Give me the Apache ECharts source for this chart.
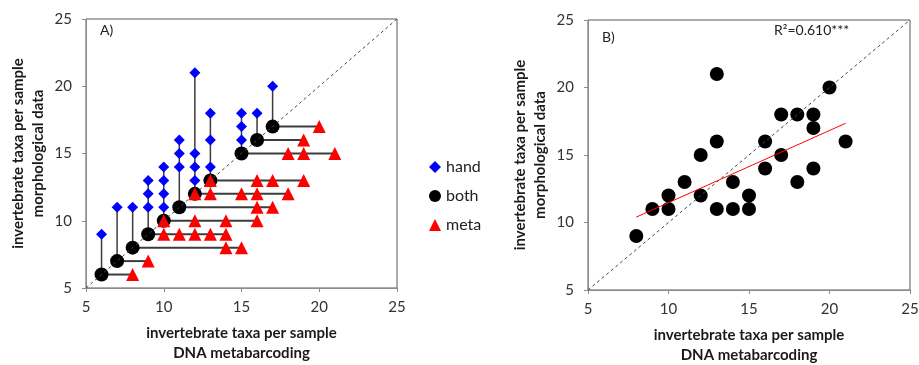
<!DOCTYPE html>
<html>
<head>
<meta charset="utf-8">
<script src="https://cdn.jsdelivr.net/npm/echarts@6/dist/echarts.min.js"></script>
<style>
  html, body { margin: 0; padding: 0; background: #fff; }
  #chart { width: 919px; height: 365px; }
</style>
</head>
<body>
<div id="chart"></div>
<script>
// panel A: samples where both methods agree (x = y)
const bothVals = [6, 7, 8, 9, 10, 11, 12, 13, 15, 16, 17];
// extra taxa found only by hand sorting [x, y]
const handPts = [
  [6, 9], [7, 11], [8, 11], [9, 11], [9, 12], [9, 13],
  [10, 11], [10, 12], [10, 13], [10, 14], [11, 14], [11, 15], [11, 16],
  [12, 13], [12, 14], [12, 15], [12, 21], [13, 14], [13, 16], [13, 18],
  [15, 16], [15, 17], [15, 18], [16, 18], [17, 20]
];
// extra taxa found only by metabarcoding [x, y]
const metaPts = [
  [8, 6], [9, 7], [14, 8], [15, 8], [10, 9], [11, 9], [12, 9], [13, 9], [14, 9],
  [10, 10], [12, 10], [14, 10], [16, 10], [16, 11], [17, 11],
  [12, 12], [13, 12], [15, 12], [16, 12], [18, 12],
  [13, 13], [16, 13], [17, 13], [19, 13],
  [18, 15], [19, 15], [21, 15], [19, 16], [20, 17]
];

// panel B
const dnaX = [8, 9, 10, 10, 11, 12, 12, 13, 13, 13, 14, 14, 15, 15, 16, 16, 17, 17, 18, 18, 19, 19, 19, 20, 21];
const morphY = [9, 11, 11, 12, 13, 12, 15, 21, 16, 11, 13, 11, 12, 11, 16, 14, 18, 15, 18, 13, 18, 17, 14, 20, 16];
const trendX = [8, 21];
const trendY = [10.4, 17.35];
const oneToOne = [5, 25];

const axisTicks = { min: 5, max: 25, interval: 5 };
const font = 'Lato, "Open Sans", sans-serif';

// stems: from the shared point up to the highest hand value / across to the farthest meta value
const stems = bothVals.map(b => {
  const ys = handPts.filter(p => p[0] === b).map(p => p[1]);
  return [b, b, ys.length ? Math.max(...ys) : b];
});
const whiskers = bothVals.map(b => {
  const xs = metaPts.filter(p => p[1] === b).map(p => p[0]);
  return [b, b, xs.length ? Math.max(...xs) : b];
});

const myChart = echarts.init(document.getElementById('chart'));

function makeX(idx) {
  return {
    gridIndex: idx, type: 'value', ...axisTicks,
    name: 'invertebrate taxa per sample\nDNA metabarcoding',
    nameLocation: 'middle', nameGap: 35,
    nameTextStyle: { fontFamily: font, fontWeight: 'bold', fontSize: 15, color: '#1a1a1a', lineHeight: 20 },
    axisLine: { lineStyle: { color: '#8c8c8c', width: 1 } },
    axisTick: { show: true, length: 4, lineStyle: { color: '#8c8c8c' } },
    axisLabel: { fontFamily: font, fontSize: 15, color: '#333', margin: 12 },
    splitLine: { show: false }
  };
}
function makeY(idx) {
  return {
    gridIndex: idx, type: 'value', ...axisTicks,
    name: 'invertebrate taxa per sample\nmorphological data',
    nameLocation: 'middle', nameGap: 38,
    nameTextStyle: { fontFamily: font, fontWeight: 'bold', fontSize: 15, color: '#1a1a1a', lineHeight: 20 },
    axisLine: { lineStyle: { color: '#8c8c8c', width: 1 } },
    axisTick: { show: true, length: 4, lineStyle: { color: '#8c8c8c' } },
    axisLabel: { fontFamily: font, fontSize: 15, color: '#333', margin: 14 },
    splitLine: { show: false }
  };
}

function segSeries(data, vertical, lw) {
  return {
    type: 'custom', xAxisIndex: 0, yAxisIndex: 0, silent: true,
    data: data, encode: { x: 0, y: 1 },
    renderItem: function (params, api) {
      const v = api.value(0), s = api.value(1), e = api.value(2);
      const p1 = api.coord([v, s]);
      const p2 = vertical ? api.coord([v, e]) : api.coord([e, s]);
      return {
        type: 'line',
        shape: { x1: p1[0], y1: p1[1], x2: p2[0], y2: p2[1] },
        style: { stroke: '#3c3c3c', lineWidth: lw }
      };
    }
  };
}

const option = {
  animation: false,
  grid: [
    { left: 86, top: 19, right: 522, bottom: 77, outerBoundsMode: 'none', show: true, borderColor: '#595959', borderWidth: 1 },
    { left: 588, top: 20, right: 9, bottom: 75, outerBoundsMode: 'none', show: true, borderColor: '#595959', borderWidth: 1 }
  ],
  xAxis: [makeX(0), makeX(1)],
  yAxis: [makeY(0), makeY(1)],
  legend: {
    orient: 'vertical', left: 424, top: 154, itemGap: 13,
    itemWidth: 12, itemHeight: 12,
    textStyle: { fontFamily: font, fontSize: 16, color: '#222' },
    data: [
      { name: 'hand', icon: 'diamond' },
      { name: 'both', icon: 'circle' },
      { name: 'meta', icon: 'triangle' }
    ]
  },
  graphic: [
    { type: 'text', left: 100, top: 23, style: { text: 'A)', fontFamily: font, fontSize: 14, fill: '#222' } },
    { type: 'text', left: 602, top: 30, style: { text: 'B)', fontFamily: font, fontSize: 14, fill: '#222' } },
    { type: 'text', left: 774, top: 23, style: { text: 'R²=0.610***', fontFamily: font, fontSize: 14, fill: '#222' } }
  ],
  series: [
    {
      type: 'line', xAxisIndex: 0, yAxisIndex: 0, silent: true, symbol: 'none',
      data: oneToOne.map(v => [v, v]),
      lineStyle: { color: '#444', width: 1, type: [3, 3] }
    },
    segSeries(stems, true, 1.5),
    segSeries(whiskers, false, 2),
    {
      name: 'hand', type: 'scatter', xAxisIndex: 0, yAxisIndex: 0,
      symbol: 'diamond', symbolSize: 11, data: handPts,
      itemStyle: { color: '#0000ff', opacity: 1 }
    },
    {
      name: 'both', type: 'scatter', xAxisIndex: 0, yAxisIndex: 0,
      symbol: 'circle', symbolSize: 14, data: bothVals.map(v => [v, v]),
      itemStyle: { color: '#000', opacity: 1 }
    },
    {
      name: 'meta', type: 'scatter', xAxisIndex: 0, yAxisIndex: 0,
      symbol: 'triangle', symbolSize: 13, data: metaPts,
      itemStyle: { color: '#ff0000', opacity: 1 }
    },
    {
      type: 'line', xAxisIndex: 1, yAxisIndex: 1, silent: true, symbol: 'none',
      data: oneToOne.map(v => [v, v]),
      lineStyle: { color: '#444', width: 1, type: [3, 3] }
    },
    {
      type: 'scatter', xAxisIndex: 1, yAxisIndex: 1,
      symbol: 'circle', symbolSize: 14,
      data: dnaX.map((x, i) => [x, morphY[i]]),
      itemStyle: { color: '#000', opacity: 1 }
    },
    {
      type: 'line', xAxisIndex: 1, yAxisIndex: 1, silent: true, symbol: 'none',
      data: trendX.map((x, i) => [x, trendY[i]]),
      lineStyle: { color: '#ff0000', width: 1 }
    }
  ]
};

option && myChart.setOption(option);
</script>
</body>
</html>
